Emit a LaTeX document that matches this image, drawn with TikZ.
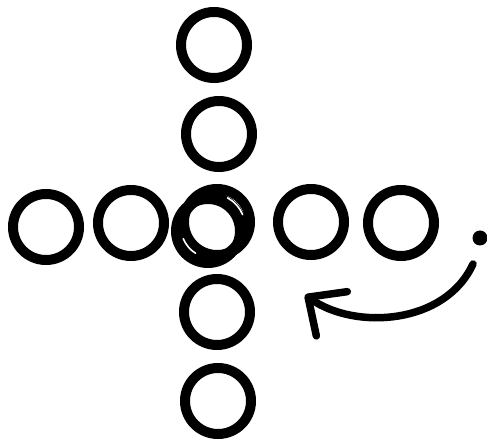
\documentclass[tikz,border=0pt]{standalone}
\usetikzlibrary{arrows.meta}
\definecolor{ink}{HTML}{000000}
\tikzset{
  ring/.style={circle,draw=ink,line width=10pt,minimum size=66pt,inner sep=0pt,outer sep=0pt},
  sliver/.style={draw=white,line width=1.6pt,line cap=round},
  blob/.style={circle,fill=ink,minimum size=15pt,inner sep=0pt},
  sweep/.style={line width=7.5pt,draw=ink,line cap=round,-{Straight Barb[length=29pt,width=54pt,round]}},
}
\begin{document}
\begin{tikzpicture}[x=1pt,y=-1pt]
\useasboundingbox (0,0) rectangle (487,443);
\node[ring] (up2) at (214,45) {};
\node[ring] (up1) at (219,134) {};
\node[ring,minimum size=66pt] (hub) at (217,222) {};
\node[ring,minimum size=64pt] (hubb) at (208,231) {};
\node[ring,minimum size=60pt,line width=9pt] (hubc) at (212,227) {};
\draw[sliver] (hubc.center) ++(-62:33) arc[start angle=-62,end angle=-22,radius=33];
\draw[sliver] (hubc.center) ++(122:31) arc[start angle=122,end angle=158,radius=31];
\node[ring] (down1) at (217,312) {};
\node[ring] (down2) at (218,401) {};
\node[ring] (left2) at (46,227) {};
\node[ring] (left1) at (131,223) {};
\node[ring] (right1) at (311,222) {};
\node[ring] (right2) at (401,223) {};
\node[blob] (dot) at (480,238) {};
\coordinate (from) at (473,264);
\coordinate (to) at (305,295);
\draw[sweep] (from) .. controls (445,325) and (355,330) .. (to);
\end{tikzpicture}
\end{document}
